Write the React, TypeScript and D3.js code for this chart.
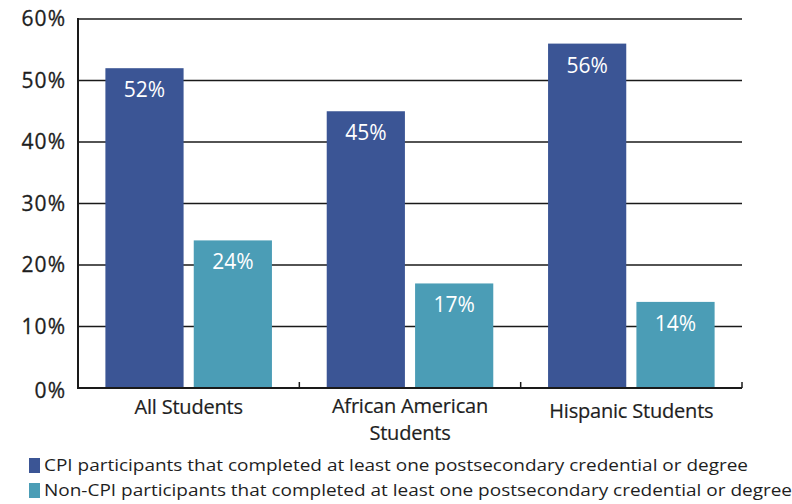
import React from "react";
import * as d3 from "d3";

const categories = ["All Students", "African American Students", "Hispanic Students"];
const categoryLines = [["All Students"], ["African American", "Students"], ["Hispanic Students"]];
const cpiValues = [52, 45, 56];
const nonCpiValues = [24, 17, 14];
const yTicks = [0, 10, 20, 30, 40, 50, 60];
const seriesNames = [
  "CPI participants that completed at least one postsecondary credential or degree",
  "Non-CPI participants that completed at least one postsecondary credential or degree",
];
const seriesColors = ["#3b5595", "#4b9db6"];

export default function App() {
  const W = 792, H = 504;
  const left = 78, right = 742, top = 19, bottom = 388;
  const y = d3.scaleLinear().domain([0, 60]).range([bottom, top]);
  const x0 = d3.scaleBand<string>().domain(categories).range([left, right]).paddingInner(0).paddingOuter(0);
  const x1 = d3.scaleBand<string>().domain(["cpi", "non"]).range([0, x0.bandwidth()]).paddingInner(0.115).paddingOuter(0.31);
  const font = "'Open Sans', 'DejaVu Sans', sans-serif";
  const series = [cpiValues, nonCpiValues];
  const keys = ["cpi", "non"];

  return (
    <svg width={W} height={H} style={{ position: "absolute", left: 0, top: 0, background: "#fff" }} fontFamily={font}>
      <rect x={0} y={0} width={W} height={H} fill="#fff" />
      {yTicks.map((t) => (
        <g key={t}>
          {t > 0 && <line x1={left} x2={right} y1={y(t)} y2={y(t)} stroke="#1a1a1a" strokeWidth={1.6} />}
          <text x={66} y={y(t) + 7 + (t === 0 ? 3 : 0)} textAnchor="end" fontSize={21} fill="#1e1e1e" stroke="#1e1e1e" strokeWidth={0.3} letterSpacing={1}>
            {t}%
          </text>
        </g>
      ))}
      {categories.map((c, ci) =>
        series.map((vals, si) => {
          const bx = (x0(c) as number) + (x1(keys[si]) as number);
          const bw = x1.bandwidth();
          const v = vals[ci];
          return (
            <g key={c + si}>
              <rect x={bx} y={y(v)} width={bw} height={bottom - y(v)} fill={seriesColors[si]} />
              <text x={bx + bw / 2} y={y(v) + 29} textAnchor="middle" fontSize={21} fill="#fff">
                {v}%
              </text>
            </g>
          );
        })
      )}
      <line x1={left} x2={left} y1={top - 1} y2={bottom + 1} stroke="#1a1a1a" strokeWidth={2} />
      <line x1={left - 1} x2={right} y1={bottom} y2={bottom} stroke="#1a1a1a" strokeWidth={2.2} />
      {categories.map((c, ci) => (
        <line key={"tk" + ci} x1={(x0(c) as number) + x0.bandwidth()} x2={(x0(c) as number) + x0.bandwidth()} y1={bottom} y2={bottom - 6} stroke="#1a1a1a" strokeWidth={1.5} />
      ))}
      {categories.map((c, ci) => {
        const cx = (x0(c) as number) + x0.bandwidth() / 2;
        const lines = categoryLines[ci];
        const baseY = lines.length > 1 ? 413 : ci === 0 ? 414 : 418;
        return (
          <g key={"cl" + ci}>
            {lines.map((l, li) => (
              <text key={li} x={cx} y={baseY + li * 27} textAnchor="middle" fontSize={20} fill="#1e1e1e" letterSpacing={-0.2} stroke="#1e1e1e" strokeWidth={0.2}>
                {l}
              </text>
            ))}
          </g>
        );
      })}
      {seriesNames.map((n, i) => (
        <g key={"lg" + i}>
          <rect x={29} y={458 + i * 25} width={11} height={15} fill={seriesColors[i]} />
          <text x={44} y={471 + i * 25} fontSize={16} fill="#1e1e1e" textLength={i === 0 ? 704 : 748} lengthAdjust="spacingAndGlyphs">
            {n}
          </text>
        </g>
      ))}
    </svg>
  );
}
